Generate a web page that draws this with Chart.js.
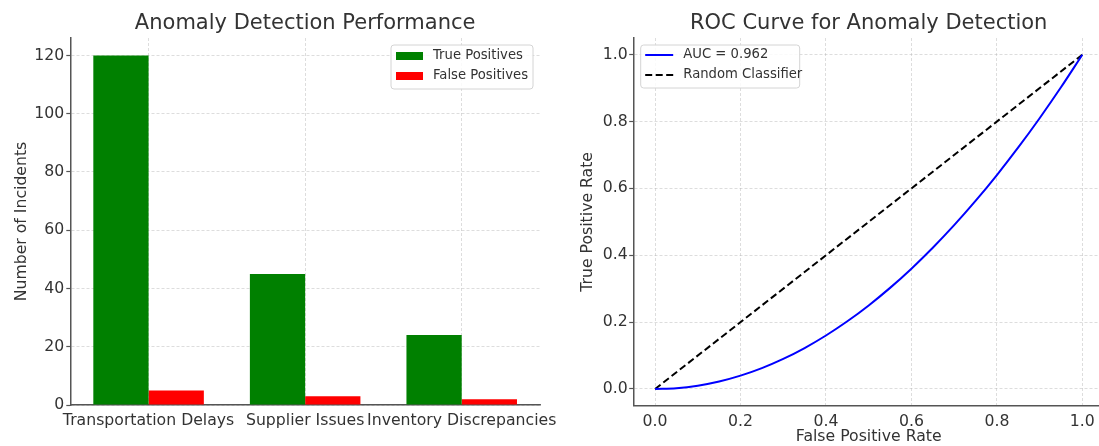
<!DOCTYPE html>
<html>
<head>
<meta charset="utf-8">
<script src="https://cdn.jsdelivr.net/npm/chart.js@4.4.0/dist/chart.umd.min.js"></script>
<style>
  html, body { margin: 0; padding: 0; background: #fff; width: 1099px; height: 446px; overflow: hidden; }
  .panel { position: absolute; top: 0; height: 446px; }
  #left { left: 0; width: 600px; }
  #right { left: 560px; width: 560px; }
</style>
</head>
<body>
<div class="panel" id="left"><canvas id="barChart" width="600" height="446"></canvas></div>
<div class="panel" id="right"><canvas id="rocChart" width="560" height="446"></canvas></div>
<script>
// left panel: incidents per category
const categories = ["Transportation Delays", "Supplier Issues", "Inventory Discrepancies"];
const truePositives = [120, 45, 24];
const falsePositives = [5, 3, 2];
const countTicks = [0, 20, 40, 60, 80, 100, 120];

// right panel: ROC curve
const fprValues = [0, 0.05, 0.1, 0.15, 0.2, 0.25, 0.3, 0.35, 0.4, 0.45, 0.5,
                   0.55, 0.6, 0.65, 0.7, 0.75, 0.8, 0.85, 0.9, 0.95, 1.0];
const tprValues = [0, 0.0025, 0.01, 0.0225, 0.04, 0.0625, 0.09, 0.1225, 0.16, 0.2025, 0.25,
                   0.3025, 0.36, 0.4225, 0.49, 0.5625, 0.64, 0.7225, 0.81, 0.9025, 1.0];
const randomFpr = [0, 1];
const randomTpr = [0, 1];
const rateTicks = [0, 0.2, 0.4, 0.6, 0.8, 1.0];

Chart.defaults.font.family = '"DejaVu Sans", sans-serif';
Chart.defaults.color = '#333';

const gridColor = 'rgba(176,176,176,0.55)';
const spineColor = '#555';
const tickFont = { size: 15.7 };

// legend drawn inside the plot, matplotlib style
const boxLegend = {
  id: 'boxLegend',
  afterDraw(chart, args, opts) {
    const ctx = chart.ctx;
    ctx.save();
    ctx.beginPath();
    ctx.roundRect(opts.x, opts.y, opts.width, opts.height, 3);
    ctx.fillStyle = 'rgba(255,255,255,0.85)';
    ctx.fill();
    ctx.strokeStyle = '#d4d4d4';
    ctx.lineWidth = 1;
    ctx.stroke();
    ctx.font = '13.2px "DejaVu Sans"';
    ctx.textBaseline = 'middle';
    chart.data.datasets.forEach(function (ds, i) {
      const cy = opts.y + opts.firstRow + i * opts.rowGap;
      const sx = opts.x + opts.markX;
      if (opts.kind === 'bar') {
        ctx.fillStyle = ds.backgroundColor;
        ctx.fillRect(sx, cy - 4, 27, 8);
      } else {
        ctx.strokeStyle = ds.borderColor;
        ctx.lineWidth = ds.borderWidth;
        ctx.setLineDash(ds.borderDash || []);
        ctx.beginPath();
        ctx.moveTo(sx, cy);
        ctx.lineTo(sx + 28, cy);
        ctx.stroke();
        ctx.setLineDash([]);
      }
      ctx.fillStyle = '#333';
      ctx.fillText(ds.label, opts.x + opts.textX, cy);
    });
    ctx.restore();
  }
};

function fixedTicks(list) {
  return function (scale) {
    scale.ticks = list.map(function (v) { return { value: v }; });
  };
}

window.addEventListener('load', function () {
  let context = document.querySelector("#barChart").getContext('2d');
  new Chart(context, {
    type: 'bar',
    data: {
      labels: categories,
      datasets: [
        { label: "True Positives", data: truePositives, backgroundColor: '#008000', borderWidth: 0 },
        { label: "False Positives", data: falsePositives, backgroundColor: '#ff0000', borderWidth: 0 }
      ]
    },
    options: {
      responsive: false,
      animation: false,
      layout: { padding: { left: 0, right: 60, top: 0, bottom: 0 } },
      datasets: { bar: { categoryPercentage: 0.706, barPercentage: 1.0 } },
      plugins: {
        legend: { display: false },
        tooltip: { enabled: false },
        title: {
          display: true, fullSize: false,
          text: "Anomaly Detection Performance",
          color: '#333',
          font: { size: 21, weight: 'normal' },
          padding: { top: 11.4, bottom: 1.4 }
        },
        boxLegend: { kind: 'bar', x: 391, y: 45, width: 142, height: 44, firstRow: 11, rowGap: 20, markX: 5, textX: 42 }
      },
      scales: {
        x: {
          type: 'category',
          offset: true,
          grid: { offset: false, color: gridColor, lineWidth: 0.8, drawTicks: true, tickLength: 4, tickColor: 'rgba(0,0,0,0)' },
          border: { color: spineColor, width: 1.5, dash: [3, 2] },
          ticks: { maxRotation: 0, minRotation: 0, autoSkip: false, padding: 2.5, font: tickFont },
          afterFit: function (s) { s.height = 41; }
        },
        y: {
          min: 0, max: 126,
          afterBuildTicks: fixedTicks(countTicks),
          grid: { color: gridColor, lineWidth: 0.8, tickLength: 4, tickColor: spineColor, tickWidth: 1.2, tickBorderDash: [] },
          border: { color: spineColor, width: 1.5, dash: [3, 2] },
          ticks: { padding: 2, font: tickFont },
          title: { display: true, text: "Number of Incidents", font: tickFont, padding: { top: 12.5, bottom: 0 } },
          afterFit: function (s) { s.width = 70.3; }
        }
      }
    },
    plugins: [boxLegend]
  });
});

window.addEventListener('load', function () {
  let rocPoints = fprValues.map(function (x, i) { return { x: x, y: tprValues[i] }; });
  let randomPoints = randomFpr.map(function (x, i) { return { x: x, y: randomTpr[i] }; });
  let context = document.querySelector("#rocChart").getContext('2d');
  new Chart(context, {
    type: 'line',
    data: {
      datasets: [
        { label: "AUC = 0.962", data: rocPoints, borderColor: '#0000ff', borderWidth: 2, pointRadius: 0, cubicInterpolationMode: 'monotone', fill: false },
        { label: "Random Classifier", data: randomPoints, borderColor: '#000', borderWidth: 2, borderDash: [7, 3.5], pointRadius: 0, fill: false }
      ]
    },
    options: {
      responsive: false,
      animation: false,
      layout: { padding: { left: 0, right: 16.3, top: 0, bottom: 0 } },
      plugins: {
        legend: { display: false },
        tooltip: { enabled: false },
        title: {
          display: true, fullSize: false,
          text: "ROC Curve for Anomaly Detection",
          color: '#333',
          font: { size: 21, weight: 'normal' },
          padding: { top: 11.4, bottom: 1.4 }
        },
        boxLegend: { kind: 'line', x: 80.7, y: 45, width: 159, height: 43, firstRow: 10, rowGap: 20, markX: 4.5, textX: 42.6 }
      },
      scales: {
        x: {
          type: 'linear',
          min: -0.05, max: 1.05,
          afterBuildTicks: fixedTicks(rateTicks),
          grid: { color: gridColor, lineWidth: 0.8, tickLength: 4, tickColor: 'rgba(0,0,0,0)' },
          border: { color: spineColor, width: 1.5, dash: [3, 2] },
          ticks: { padding: 2.5, font: tickFont, callback: function (v) { return v.toFixed(1); } },
          title: { display: true, text: "False Positive Rate", font: tickFont, padding: { top: 0, bottom: 0 } },
          afterFit: function (s) { s.height = 40.3; }
        },
        y: {
          type: 'linear',
          min: -0.05, max: 1.05,
          afterBuildTicks: fixedTicks(rateTicks),
          grid: { color: gridColor, lineWidth: 0.8, tickLength: 4.5, tickColor: spineColor, tickWidth: 1.2, tickBorderDash: [] },
          border: { color: spineColor, width: 1.5, dash: [3, 2] },
          ticks: { padding: 1.5, font: tickFont, callback: function (v) { return v.toFixed(1); } },
          title: { display: true, text: "True Positive Rate", font: tickFont, padding: { top: 18.6, bottom: 0 } },
          afterFit: function (s) { s.width = 73.7; }
        }
      }
    },
    plugins: [boxLegend]
  });
});
</script>
</body>
</html>
